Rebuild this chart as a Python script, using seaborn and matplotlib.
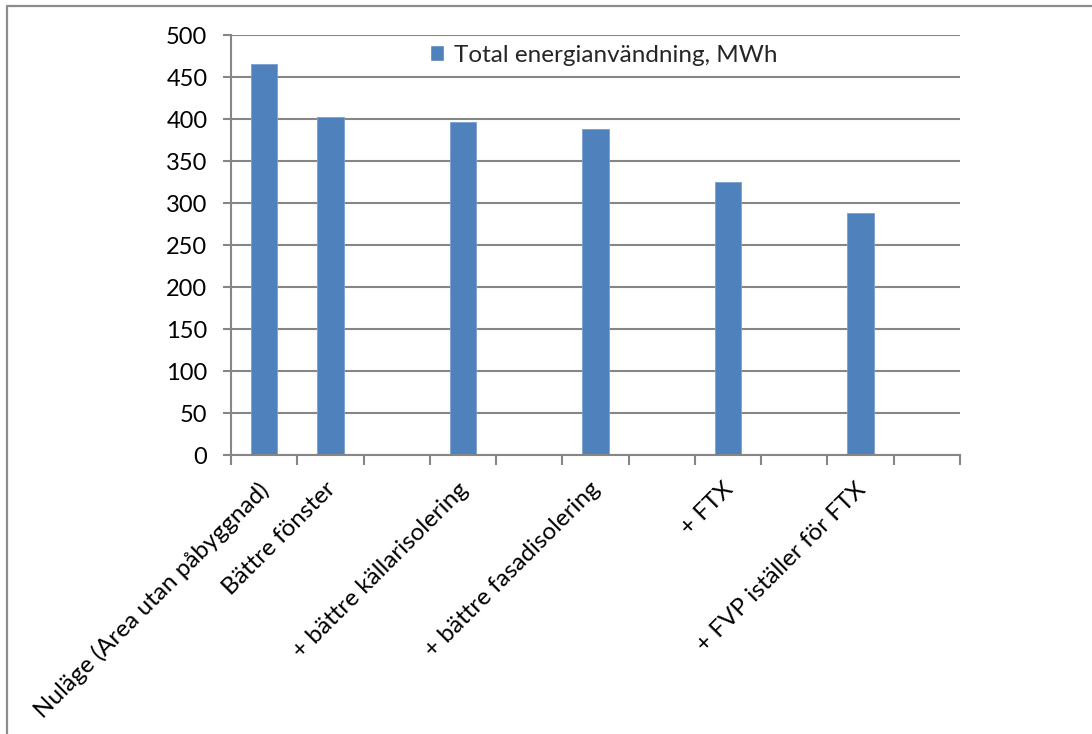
import numpy as np
import pandas as pd
import matplotlib.pyplot as plt
from matplotlib.lines import Line2D
from matplotlib.patches import Patch
from matplotlib.transforms import ScaledTranslation
import seaborn as sns

# kategorier (tomma platser mellan staplarna som i originalet)
etiketter = ["Nuläge (Area utan påbyggnad)", "Bättre fönster", "",
             "+ bättre källarisolering", "", "+ bättre fasadisolering", "",
             "+ FTX", "", "+ FVP iställer för FTX", ""]
energi = [465, 402, np.nan, 397, np.nan, 388, np.nan, 325, np.nan, 288, np.nan]
serie = "Total energianvändning, MWh"

df = pd.DataFrame({"plats": [str(i) for i in range(len(etiketter))], "MWh": energi})

sns.set_theme(style="whitegrid")
plt.rcParams['font.family'] = ['Lato', 'DejaVu Sans']

grid_farg = '#868686'
stapel_farg = '#4F81BD'

fig = plt.figure(figsize=(10.92, 7.34), dpi=100)
ax = fig.add_axes([231 / 1092, 1 - 455 / 734, (960 - 231) / 1092, 420 / 734])

sns.barplot(data=df, x="plats", y="MWh", order=df["plats"], color=stapel_farg,
            width=0.4, saturation=1, edgecolor='#7a9fd0', linewidth=0.6, ax=ax)

ax.set_xlim(-0.5, len(etiketter) - 0.5)
ax.set_ylim(0, 500)
ax.set_yticks(np.arange(0, 501, 50))
ax.set_xlabel('')
ax.set_ylabel('')

ax.set_xticks(range(len(etiketter)))
ax.set_xticklabels(etiketter, rotation=45, ha='right', rotation_mode='anchor', fontsize=17.5)
ax.set_xticks(np.arange(-0.5, len(etiketter)), minor=True)
ax.tick_params(axis='x', which='major', length=0, pad=17)
ax.tick_params(axis='x', which='minor', bottom=True, length=7, width=1.5, color=grid_farg)
ax.tick_params(axis='y', left=True, length=6, width=1.5, color=grid_farg, labelsize=17, pad=11)
skift = ScaledTranslation(-6 / 100, 0, fig.dpi_scale_trans)
for t in ax.get_xticklabels():
    t.set_color('black')
    t.set_transform(t.get_transform() + skift)
for t in ax.get_yticklabels():
    t.set_color('black')

ax.grid(axis='y', color=grid_farg, linewidth=1.5)
ax.grid(axis='x', visible=False)
ax.set_facecolor('white')
for s in ['top', 'right']:
    ax.spines[s].set_visible(False)
for s in ['left', 'bottom']:
    ax.spines[s].set_color(grid_farg)
    ax.spines[s].set_linewidth(1.5)

ax.legend(handles=[Patch(facecolor=stapel_farg, label=serie)], loc='center left',
          bbox_to_anchor=(0.259, 0.952), frameon=False, fontsize=17.5,
          handlelength=0.6, handleheight=0.6, handletextpad=0.4, borderaxespad=0)

# ram runt diagrammet (beskuren)
fig.add_artist(Line2D([7 / 1092, 1], [1 - 5.5 / 734, 1 - 5.5 / 734], color='#8c8c8c', lw=1.6))
fig.add_artist(Line2D([7 / 1092, 7 / 1092], [0, 1 - 5.5 / 734], color='#8c8c8c', lw=1.6))

fig.savefig('out.png', dpi=100, facecolor='white')
